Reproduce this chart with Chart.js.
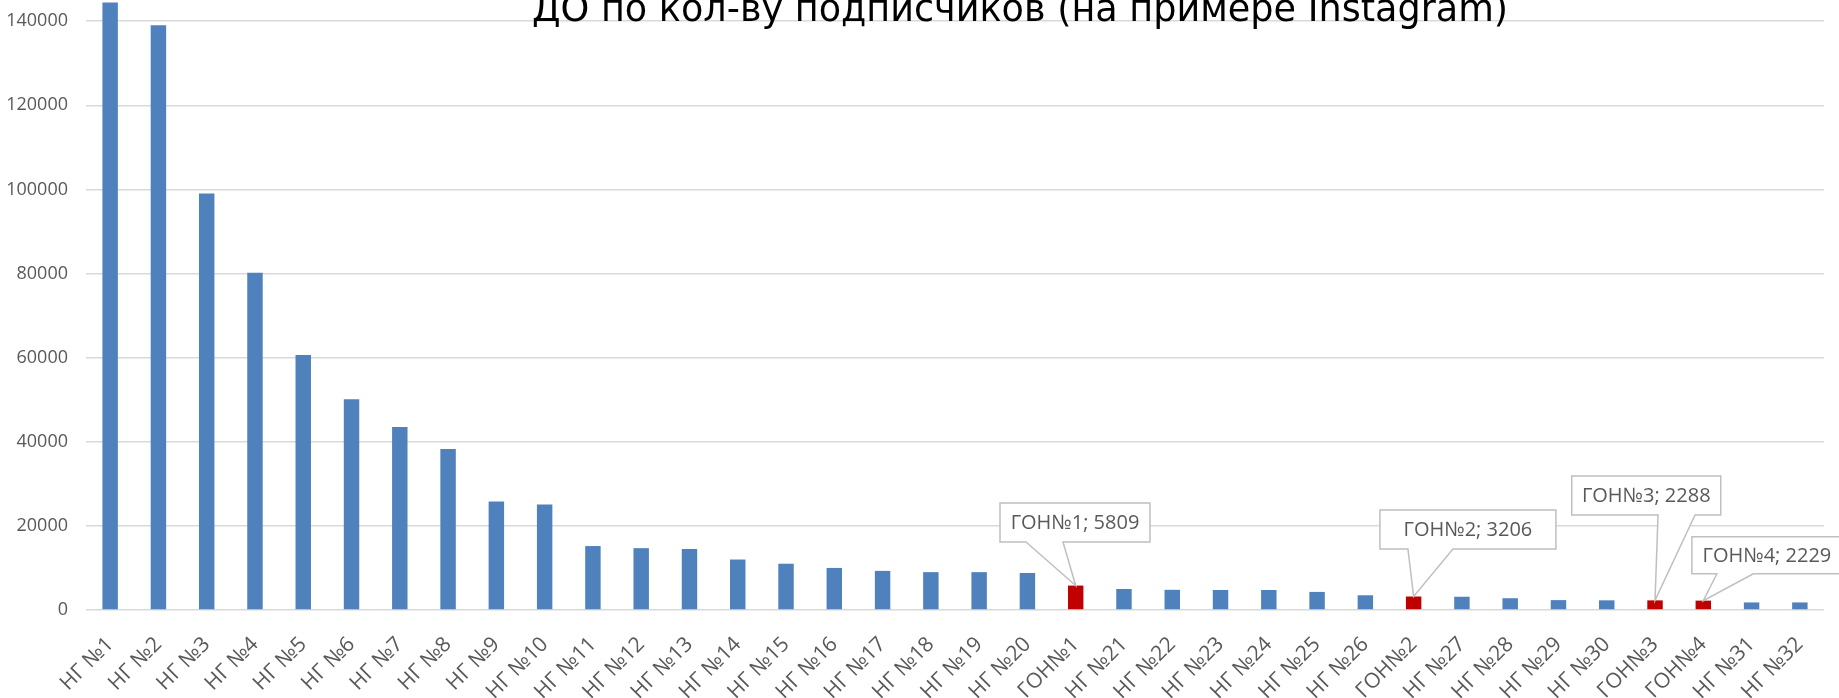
<!DOCTYPE html>
<html lang="ru">
<head>
<meta charset="utf-8">
<title>ДО по кол-ву подписчиков</title>
<script src="https://cdn.jsdelivr.net/npm/chart.js@4.4.1/dist/chart.umd.min.js"></script>
<style>
  html, body { margin: 0; padding: 0; background: #ffffff; }
  #wrap { position: relative; width: 1839px; height: 698px; overflow: hidden; }
  #chart { position: absolute; left: 0; top: -63px; }
</style>
</head>
<body>
<div id="wrap">
  <canvas id="chart" width="1839" height="761"></canvas>
</div>
<script>
const chartTitle = "ДО по кол-ву подписчиков (на примере Instagram)";

const categories = [
  "НГ №1", "НГ №2", "НГ №3", "НГ №4", "НГ №5", "НГ №6", "НГ №7", "НГ №8", "НГ №9", "НГ №10",
  "НГ №11", "НГ №12", "НГ №13", "НГ №14", "НГ №15", "НГ №16", "НГ №17", "НГ №18", "НГ №19", "НГ №20",
  "ГОН№1", "НГ №21", "НГ №22", "НГ №23", "НГ №24", "НГ №25", "НГ №26", "ГОН№2",
  "НГ №27", "НГ №28", "НГ №29", "НГ №30", "ГОН№3", "ГОН№4", "НГ №31", "НГ №32"
];

const subscribers = [
  144400, 139000, 99000, 80200, 60600, 50100, 43500, 38300, 25800, 25100,
  15200, 14700, 14500, 12000, 11000, 10000, 9300, 9000, 9000, 8800,
  5809, 5000, 4800, 4750, 4750, 4300, 3500, 3206,
  3150, 2800, 2350, 2300, 2288, 2229, 1800, 1800
];

const highlightPrefix = "ГОН";

// callout boxes, relative to the top centre of the bar they point at
const calloutLayout = {
  "ГОН№1": { dx: -75.7, dy: -82.6, w: 150, h: 39, base0: -49.7, base1: -12.7 },
  "ГОН№2": { dx: -33.7, dy: -86.5, w: 176, h: 39, base0: -5.7, base1: 39.3 },
  "ГОН№3": { dx: -83.3, dy: -124.4, w: 149, h: 39, base0: 3, base1: 40 },
  "ГОН№4": { dx: -11.4, dy: -63.9, w: 150, h: 37, base0: 13.6, base1: 50 }
};

const barColors = categories.map((label) => (label.startsWith(highlightPrefix) ? "#c00000" : "#4f81bd"));

const calloutPlugin = {
  id: "callouts",
  afterDatasetsDraw(chart) {
    const ctx = chart.ctx;
    const meta = chart.getDatasetMeta(0);

    ctx.save();
    ctx.font = '20px "Open Sans"';
    ctx.textAlign = "center";
    ctx.textBaseline = "middle";

    categories.forEach((label, index) => {
      const box = calloutLayout[label];
      if (!box) {
        return;
      }
      const bar = meta.data[index];
      const px = bar.x;
      const py = bar.y;
      const left = px + box.dx;
      const top = py + box.dy;
      const right = left + box.w;
      const bottom = top + box.h;

      ctx.beginPath();
      ctx.moveTo(px + box.base0, bottom);
      ctx.lineTo(px, py);
      ctx.lineTo(px + box.base1, bottom);
      ctx.lineTo(right, bottom);
      ctx.lineTo(right, top);
      ctx.lineTo(left, top);
      ctx.lineTo(left, bottom);
      ctx.closePath();
      ctx.fillStyle = "#ffffff";
      ctx.fill();
      ctx.lineWidth = 1.5;
      ctx.strokeStyle = "#bfbfbf";
      ctx.stroke();

      ctx.fillStyle = "#595959";
      ctx.fillText(`${label}; ${subscribers[index]}`, (left + right) / 2, (top + bottom) / 2 + 1);
    });

    ctx.restore();
  }
};

const titlePlugin = {
  id: "topTitle",
  afterDraw(chart) {
    const ctx = chart.ctx;
    ctx.save();
    ctx.font = '36.6px "DejaVu Sans"';
    ctx.fillStyle = "#000000";
    ctx.textAlign = "center";
    ctx.textBaseline = "alphabetic";
    ctx.fillText(chartTitle, 1020, 63 + 21);
    ctx.restore();
  }
};

new Chart(document.getElementById("chart"), {
  type: "bar",
  data: {
    labels: categories,
    datasets: [
      {
        data: subscribers,
        backgroundColor: barColors,
        borderWidth: 0,
        barPercentage: 0.32,
        categoryPercentage: 1
      }
    ]
  },
  options: {
    responsive: false,
    animation: false,
    layout: {
      padding: { top: 0, right: 15, bottom: 0, left: 0 }
    },
    plugins: {
      legend: { display: false },
      tooltip: { enabled: false }
    },
    scales: {
      x: {
        grid: { display: false },
        border: { display: false },
        ticks: {
          autoSkip: false,
          minRotation: 45,
          maxRotation: 45,
          padding: 14,
          color: "#595959",
          font: { family: "Open Sans", size: 21 }
        },
        afterFit: (scale) => {
          scale.height = 88;
        }
      },
      y: {
        min: 0,
        max: 160000,
        grid: { color: "#d9d9d9", lineWidth: 1.5, drawTicks: false },
        border: { display: false },
        ticks: {
          stepSize: 20000,
          padding: 18,
          color: "#595959",
          font: { family: "Open Sans", size: 18 },
          callback: (value) => String(value)
        },
        afterFit: (scale) => {
          scale.width = 86;
          scale.paddingTop = 0;
          scale.paddingBottom = 0;
        }
      }
    }
  },
  plugins: [calloutPlugin, titlePlugin]
});
</script>
</body>
</html>
